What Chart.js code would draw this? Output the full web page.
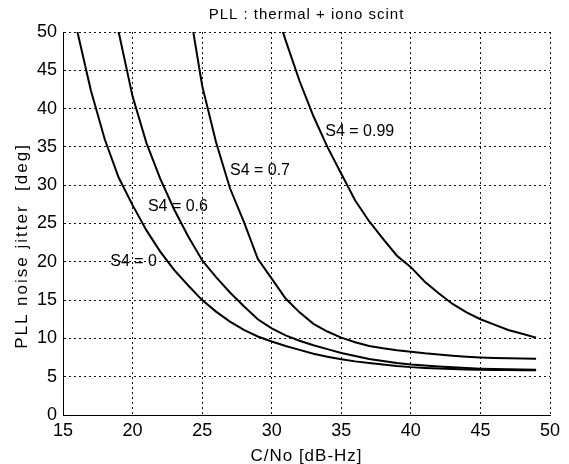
<!DOCTYPE html>
<html>
<head>
<meta charset="utf-8">
<script src="https://cdn.jsdelivr.net/npm/chart.js@4.4.0/dist/chart.umd.min.js"></script>
<style>
  body { margin: 0; background: #fff; }
  #wrap { width: 569px; height: 464px; }
</style>
</head>
<body>
<div id="wrap"><canvas id="pllChart" width="569" height="464"></canvas></div>
<script>
// C/No in dB-Hz, one point per dB
const cno = [15, 16, 17, 18, 19, 20, 21, 22, 23, 24, 25, 26, 27, 28, 29, 30, 31, 32,
             33, 34, 35, 36, 37, 38, 39, 40, 41, 42, 43, 44, 45, 46, 47, 48, 49];

// PLL jitter [deg] for each S4, null where the curve is off the top
const jitterS4_0 = [60, 50.3, 42.4, 36.0, 31.0, 27.4, 24.1, 21.3, 18.9, 16.9, 15.0, 13.5,
                    12.2, 11.1, 10.25, 9.6, 9.0, 8.5, 8.0, 7.6, 7.28, 7.0, 6.78, 6.6,
                    6.4, 6.25, 6.15, 6.06, 6.0, 5.95, 5.9, 5.88, 5.86, 5.85, 5.84];
const jitterS4_06 = [null, null, null, 61, 50, 41.6, 35.5, 30.8, 26.8, 23.3, 20.2, 18.0,
                     16.0, 14.2, 12.5, 11.3, 10.4, 9.7, 9.1, 8.6, 8.1, 7.7, 7.3, 7.05,
                     6.8, 6.6, 6.45, 6.32, 6.22, 6.12, 6.05, 6.0, 5.97, 5.94, 5.9];
const jitterS4_07 = [null, null, null, null, null, null, null, null, null, 54, 43, 35.6,
                     29.6, 25.2, 20.4, 17.8, 15.2, 13.4, 11.9, 10.9, 10.1, 9.5, 9.0, 8.7,
                     8.45, 8.25, 8.05, 7.9, 7.75, 7.62, 7.52, 7.45, 7.4, 7.37, 7.35];
const jitterS4_099 = [null, null, null, null, null, null, null, null, null, null, null, null,
                      null, null, null, 54.5, 48.9, 43.6, 39.0, 35.0, 31.5, 28.0, 25.3, 23.0,
                      20.8, 19.3, 17.4, 15.9, 14.5, 13.4, 12.5, 11.8, 11.1, 10.6, 10.1];

const s4Names = ['S4 = 0', 'S4 = 0.6', 'S4 = 0.7', 'S4 = 0.99'];
const xTicks = [15, 20, 25, 30, 35, 40, 45, 50];
const yTicks = [0, 5, 10, 15, 20, 25, 30, 35, 40, 45, 50];

const chartTitle = 'PLL : thermal + iono scint';
const xTitle = 'C/No [dB-Hz]';
const yTitle = 'PLL noise jitter  [deg]';

const FONT = '"Liberation Sans", Arial, sans-serif';
Chart.defaults.font.family = FONT;
Chart.defaults.color = '#000';

// where each curve name sits, in data units (left edge, middle)
const labelSpots = [[18.4, 20], [21.1, 27.2], [27.0, 31.9], [33.85, 37.0]];

const curveLabels = {
  id: 'curveLabels',
  afterDatasetsDraw(chart) {
    const { ctx, scales: { x, y } } = chart;
    ctx.save();
    ctx.font = '16px ' + FONT;
    ctx.fillStyle = '#000';
    ctx.textAlign = 'left';
    ctx.textBaseline = 'middle';
    labelSpots.forEach((p, i) => {
      ctx.fillText(s4Names[i], x.getPixelForValue(p[0]), y.getPixelForValue(p[1]));
    });
    ctx.restore();
  }
};

// titles drawn by hand so the wide letter spacing of the original can be kept
const titles = {
  id: 'titles',
  afterDraw(chart) {
    const { ctx, chartArea: area } = chart;
    const midX = (area.left + area.right) / 2;
    ctx.save();
    ctx.fillStyle = '#000';
    ctx.textAlign = 'center';
    ctx.textBaseline = 'middle';

    ctx.font = '15px ' + FONT;
    ctx.letterSpacing = '1px';
    ctx.fillText(chartTitle, midX, area.top - 17);

    ctx.font = '17px ' + FONT;
    ctx.fillText(xTitle, midX, area.bottom + 41);

    ctx.letterSpacing = '2px';
    ctx.translate(22, area.top + 214);
    ctx.rotate(-Math.PI / 2);
    ctx.fillText(yTitle, 0, 0);
    ctx.restore();
  }
};

function toPoints(vals) {
  return cno.map((c, i) => ({ x: c, y: vals[i] }));
}

const series = [jitterS4_0, jitterS4_06, jitterS4_07, jitterS4_099];

const datasets = series.map((vals, i) => ({
  label: s4Names[i],
  data: toPoints(vals),
  borderColor: '#000',
  borderWidth: 2,
  pointRadius: 0,
  fill: false,
  tension: 0
}));

function gridScale(ticks, fit, pad) {
  return {
    type: 'linear',
    min: ticks[0],
    max: ticks[ticks.length - 1],
    afterBuildTicks: s => { s.ticks = ticks.map(v => ({ value: v })); },
    afterFit: fit,
    ticks: { font: { size: 18 }, color: '#000', padding: pad },
    grid: { color: '#111', lineWidth: 1, drawTicks: false },
    border: { display: true, color: '#000', width: 1, dash: [2, 3] },
    title: { display: false }
  };
}

new Chart(document.getElementById('pllChart').getContext('2d'), {
  type: 'line',
  data: { datasets },
  options: {
    responsive: false,
    animation: false,
    events: [],
    layout: { padding: { left: 0, right: 19, top: 32, bottom: 0 } },
    plugins: {
      legend: { display: false },
      tooltip: { enabled: false },
      title: { display: false }
    },
    scales: {
      x: gridScale(xTicks, s => { s.height = 49; }, 5),
      y: gridScale(yTicks, s => { s.width = 63; }, 6)
    }
  },
  plugins: [curveLabels, titles]
});
</script>
</body>
</html>
